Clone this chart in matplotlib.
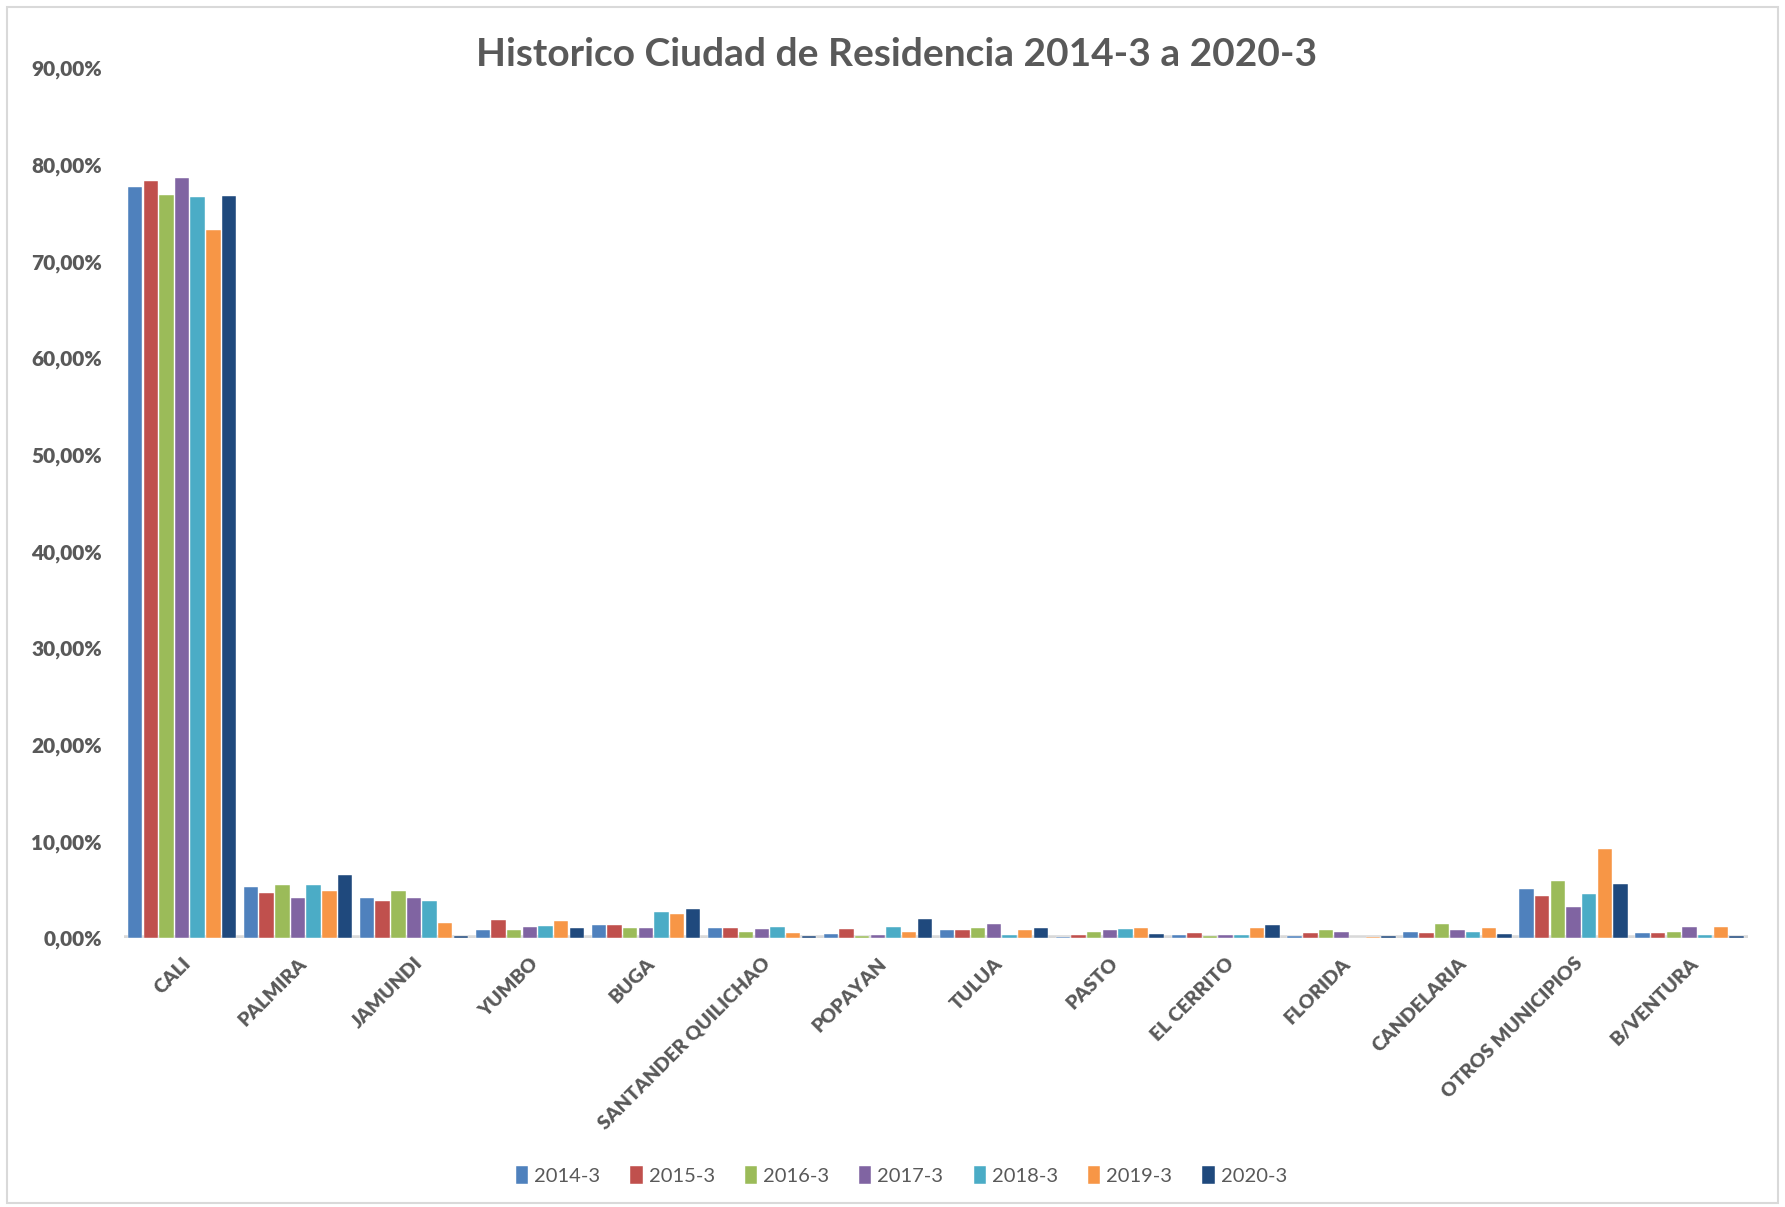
import numpy as np
import matplotlib.pyplot as plt
from matplotlib.ticker import FuncFormatter
from matplotlib.patches import Rectangle

ciudades = ['CALI', 'PALMIRA', 'JAMUNDI', 'YUMBO', 'BUGA', 'SANTANDER QUILICHAO',
            'POPAYAN', 'TULUA', 'PASTO', 'EL CERRITO', 'FLORIDA', 'CANDELARIA',
            'OTROS MUNICIPIOS', 'B/VENTURA']
periodos = ['2014-3', '2015-3', '2016-3', '2017-3', '2018-3', '2019-3', '2020-3']

# porcentajes por periodo
p2014 = [77.7, 5.3, 4.1, 0.8, 1.35, 1.05, 0.4, 0.8, 0.05, 0.3, 0.2, 0.6, 5.05, 0.5]
p2015 = [78.3, 4.7, 3.8, 1.85, 1.35, 1.0, 0.95, 0.8, 0.3, 0.5, 0.5, 0.5, 4.3, 0.5]
p2016 = [76.9, 5.45, 4.9, 0.8, 1.0, 0.65, 0.2, 1.0, 0.65, 0.2, 0.8, 1.45, 5.85, 0.6]
p2017 = [78.6, 4.1, 4.1, 1.1, 1.0, 0.9, 0.35, 1.4, 0.8, 0.3, 0.6, 0.8, 3.25, 1.1]
p2018 = [76.6, 5.45, 3.8, 1.2, 2.7, 1.1, 1.1, 0.35, 0.9, 0.3, 0.0, 0.6, 4.5, 0.3]
p2019 = [73.2, 4.9, 1.5, 1.75, 2.5, 0.55, 0.65, 0.8, 1.05, 1.05, 0.05, 1.05, 9.25, 1.1]
p2020 = [76.8, 6.5, 0.2, 1.0, 3.0, 0.2, 2.0, 1.05, 0.4, 1.35, 0.2, 0.4, 5.55, 0.2]
series = [p2014, p2015, p2016, p2017, p2018, p2019, p2020]

colores = ['#4F81BD', '#C0504D', '#9BBB59', '#8064A2', '#4BACC6', '#F79646', '#1F497D']
gris = '#595959'

plt.rcParams['font.family'] = ['Lato', 'DejaVu Sans']

fig = plt.figure(figsize=(17.85, 12.07), dpi=100)
ax = fig.add_axes([0.0695, 0.2229, 0.9095, 0.7208])

x = np.arange(len(ciudades))
ancho = 0.135
for i, (vals, c) in enumerate(zip(series, colores)):
    pos = x + (i - 3) * ancho
    ax.bar(pos, np.array(vals) / 100, width=ancho * 0.92, color=c,
           edgecolor='white', linewidth=0.3, label=periodos[i], zorder=3)

ax.set_xlim(-0.5, len(ciudades) - 0.5)
ax.set_ylim(0, 0.9)
ax.set_yticks(np.arange(0, 0.91, 0.1))
ax.yaxis.set_major_formatter(FuncFormatter(lambda v, p: f'{v*100:.2f}%'.replace('.', ',')))
ax.tick_params(axis='y', length=0, labelsize=15, labelcolor=gris, pad=16)
for t in ax.get_yticklabels():
    t.set_fontweight('heavy')

ax.set_xticks(x)
ax.set_xticklabels(ciudades, rotation=45, ha='right', rotation_mode='anchor',
                   fontsize=14, fontweight='heavy', color=gris)
ax.tick_params(axis='x', length=0, pad=12)

for s in ax.spines.values():
    s.set_visible(False)
ax.axhline(0, color='#D9D9D9', linewidth=4, zorder=2)

fig.text(0.502, 0.955, 'Historico Ciudad de Residencia 2014-3 a 2020-3', fontsize=28,
         fontweight='bold', color=gris, ha='center', va='center')

fig.legend(loc='lower center', bbox_to_anchor=(0.505, 0.003), ncol=7, frameon=False,
           fontsize=14.5, handlelength=0.6, handleheight=1.0, handletextpad=0.3,
           columnspacing=1.5, labelcolor=gris)

fig.patches.append(Rectangle((0.004, 0.003), 0.992, 0.991, transform=fig.transFigure,
                             fill=False, edgecolor='#D9D9D9', linewidth=1.5))

plt.savefig('out.png', dpi=100)
